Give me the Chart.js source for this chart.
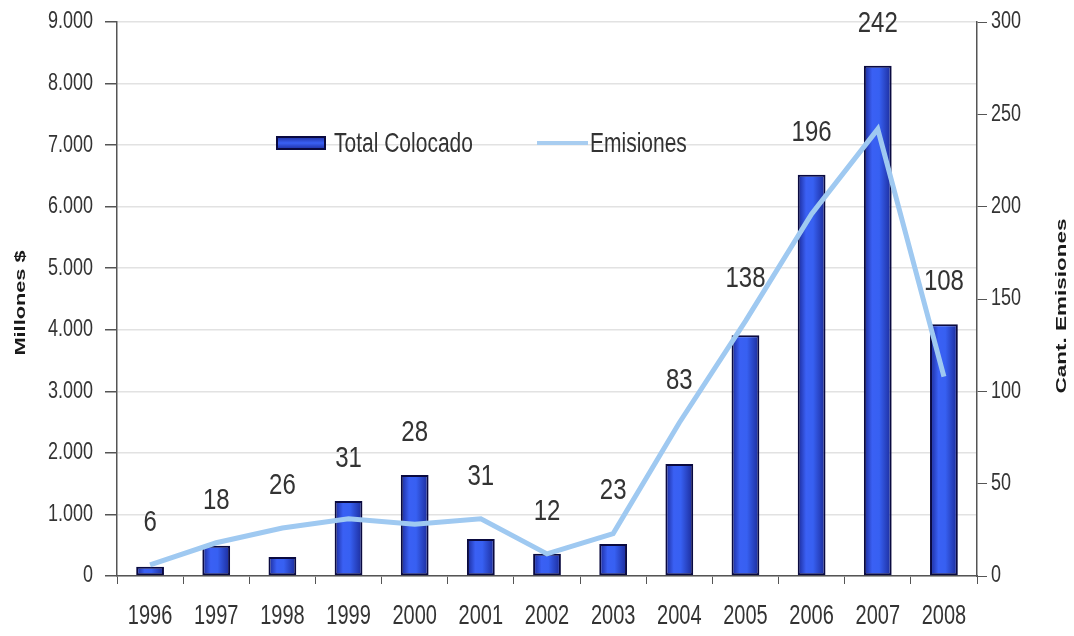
<!DOCTYPE html>
<html>
<head>
<meta charset="utf-8">
<script src="https://cdn.jsdelivr.net/npm/chart.js@4/dist/chart.umd.min.js"></script>
<style>
  html, body { margin: 0; padding: 0; background: #fff; }
  canvas { display: block; }
</style>
</head>
<body>
<canvas id="chart" width="1074" height="636"></canvas>
<script>
// Datos del gráfico
const years = ['1996', '1997', '1998', '1999', '2000', '2001', '2002', '2003', '2004', '2005', '2006', '2007', '2008'];
const totalColocado = [150, 490, 310, 1220, 1640, 600, 360, 520, 1820, 3910, 6520, 8290, 4090];
const emisiones = [6, 18, 26, 31, 28, 31, 12, 23, 83, 138, 196, 242, 108];

const FONT = '"Liberation Sans", Arial, sans-serif';
const TEXT = '#333';

// La imagen original está estirada en vertical: se escala el texto igual
function stretchText(ctx, text, x, y, opts) {
  const { size, sy = 1, align = 'center', bold = false, rot = 0, color = TEXT } = opts;
  ctx.save();
  ctx.translate(x, y);
  if (rot) {
    ctx.rotate(rot);
    ctx.scale(sy, 1);
  } else {
    ctx.scale(1, sy);
  }
  ctx.font = (bold ? 'bold ' : '') + size + 'px ' + FONT;
  ctx.fillStyle = color;
  ctx.textAlign = align;
  ctx.textBaseline = 'middle';
  ctx.fillText(text, 0, 0);
  ctx.restore();
}

// Degradado horizontal para cada barra
function barGradient(context) {
  const chart = context.chart;
  const xs = chart.scales.x;
  if (!xs || context.dataIndex === undefined) return '#2f50e8';
  const cx = xs.getPixelForValue(context.dataIndex);
  const w = xs.width / years.length * 0.42;
  if (!isFinite(cx) || !isFinite(w) || w <= 0) return '#2f50e8';
  const g = chart.ctx.createLinearGradient(cx - w / 2, 0, cx + w / 2, 0);
  g.addColorStop(0, '#1a2896');
  g.addColorStop(0.3, '#3a60f4');
  g.addColorStop(0.55, '#3760f2');
  g.addColorStop(1, '#1b2a98');
  return g;
}

// Textos de ejes, etiquetas de emisiones y leyenda
const textPlugin = {
  id: 'textPlugin',
  afterDraw(chart) {
    const ctx = chart.ctx;
    const { x, y, y1 } = chart.scales;

    // etiquetas de los ejes
    y.ticks.forEach((t, i) => {
      stretchText(ctx, t.label, x.left - 24, y.getPixelForTick(i), { size: 18, sy: 1.3, align: 'right' });
    });
    y1.ticks.forEach((t, i) => {
      stretchText(ctx, t.label, x.right + 14, y1.getPixelForTick(i), { size: 18, sy: 1.3, align: 'left' });
    });
    years.forEach((yr, i) => {
      stretchText(ctx, yr, x.getPixelForTick(i), 616, { size: 20, sy: 1.4 });
    });

    // títulos de ejes
    stretchText(ctx, 'Millones $', 21, 303, { size: 15, sy: 1.45, bold: true, rot: -Math.PI / 2, color: '#1a1a1a' });
    stretchText(ctx, 'Cant. Emisiones', 1062, 306, { size: 15, sy: 1.5, bold: true, rot: -Math.PI / 2, color: '#1a1a1a' });

    // etiquetas de datos
    const bars = chart.getDatasetMeta(1).data;
    const pts = chart.getDatasetMeta(0).data;
    emisiones.forEach((v, i) => {
      const top = Math.min(pts[i].y, bars[i].y);
      stretchText(ctx, String(v), pts[i].x, top - 42, { size: 24, sy: 1.2 });
    });

    // leyenda
    const ly = 143;
    ctx.save();
    const g = ctx.createLinearGradient(0, ly - 7, 0, ly + 7);
    g.addColorStop(0, '#1a2896');
    g.addColorStop(0.5, '#3a60f4');
    g.addColorStop(1, '#1a2896');
    ctx.fillStyle = g;
    ctx.fillRect(277, ly - 6, 48, 12);
    ctx.strokeStyle = '#0a0a40';
    ctx.lineWidth = 2;
    ctx.strokeRect(277, ly - 6, 48, 12);
    ctx.strokeStyle = '#a8cdf0';
    ctx.lineWidth = 4;
    ctx.beginPath();
    ctx.moveTo(537, ly);
    ctx.lineTo(588, ly);
    ctx.stroke();
    ctx.restore();
    stretchText(ctx, 'Total Colocado', 334, ly + 1, { size: 21, sy: 1.3, align: 'left' });
    stretchText(ctx, 'Emisiones', 590, ly + 1, { size: 21, sy: 1.3, align: 'left' });
  }
};

new Chart(document.getElementById('chart').getContext('2d'), {
  type: 'bar',
  data: {
    labels: years,
    datasets: [{
      type: 'line',
      label: 'Emisiones',
      data: emisiones,
      yAxisID: 'y1',
      borderColor: '#9fc9f1',
      borderWidth: 5,
      pointRadius: 0,
      tension: 0,
      order: 0
    }, {
      label: 'Total Colocado',
      data: totalColocado,
      yAxisID: 'y',
      backgroundColor: barGradient,
      borderColor: '#0a0a40',
      borderWidth: 2,
      borderSkipped: false,
      categoryPercentage: 1,
      barPercentage: 0.42,
      order: 1
    }]
  },
  options: {
    responsive: false,
    animation: false,
    layout: { padding: { top: 22, left: 0, right: 0, bottom: 0 } },
    plugins: {
      legend: { display: false },
      tooltip: { enabled: false }
    },
    scales: {
      x: {
        grid: { drawOnChartArea: false, color: '#555', tickColor: '#555', tickLength: 8, offset: true },
        border: { color: '#555', width: 1.5 },
        ticks: { color: 'transparent', font: { family: FONT, size: 17 }, maxRotation: 0 },
        afterFit(s) { s.height = 60; }
      },
      y: {
        position: 'left',
        min: 0, max: 9000,
        ticks: {
          stepSize: 1000,
          color: 'transparent',
          font: { family: FONT, size: 17 },
          callback: v => v.toLocaleString('de-DE')
        },
        grid: { color: '#e2e2e2', lineWidth: 1.5, tickColor: '#555', tickLength: 12 },
        border: { color: '#555', width: 1.5 },
        afterFit(s) { s.width = 117; }
      },
      y1: {
        position: 'right',
        min: 0, max: 300,
        ticks: { stepSize: 50, color: 'transparent', font: { family: FONT, size: 17 } },
        grid: { drawOnChartArea: false, tickColor: '#555', tickLength: 10 },
        border: { color: '#555', width: 1.5 },
        afterFit(s) { s.width = 97; }
      }
    }
  },
  plugins: [textPlugin]
});
</script>
</body>
</html>
